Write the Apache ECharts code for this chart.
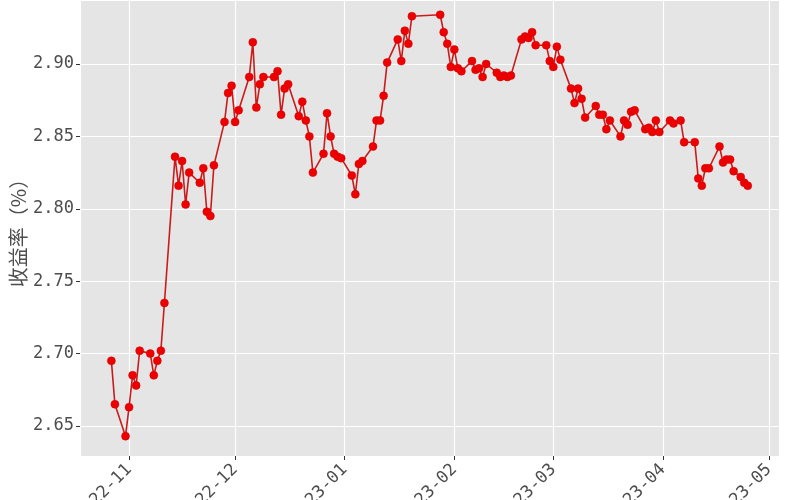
<!DOCTYPE html>
<html>
<head>
<meta charset="utf-8">
<script src="https://cdn.jsdelivr.net/npm/echarts@6/dist/echarts.min.js"></script>
<style>html,body{margin:0;padding:0;background:#fff}#c{width:800px;height:500px}</style>
</head>
<body>
<div id="c"></div>
<script>
const dates = [
'2022-10-27','2022-10-28','2022-10-31','2022-11-01','2022-11-02','2022-11-03','2022-11-04',
'2022-11-07','2022-11-08','2022-11-09','2022-11-10','2022-11-11',
'2022-11-14','2022-11-15','2022-11-16','2022-11-17','2022-11-18',
'2022-11-21','2022-11-22','2022-11-23','2022-11-24','2022-11-25',
'2022-11-28','2022-11-29','2022-11-30','2022-12-01','2022-12-02',
'2022-12-05','2022-12-06','2022-12-07','2022-12-08','2022-12-09',
'2022-12-12','2022-12-13','2022-12-14','2022-12-15','2022-12-16',
'2022-12-19','2022-12-20','2022-12-21','2022-12-22','2022-12-23',
'2022-12-26','2022-12-27','2022-12-28','2022-12-29','2022-12-30','2022-12-31',
'2023-01-03','2023-01-04','2023-01-05','2023-01-06',
'2023-01-09','2023-01-10','2023-01-11','2023-01-12','2023-01-13',
'2023-01-16','2023-01-17','2023-01-18','2023-01-19','2023-01-20',
'2023-01-28','2023-01-29','2023-01-30','2023-01-31','2023-02-01','2023-02-02','2023-02-03',
'2023-02-06','2023-02-07','2023-02-08','2023-02-09','2023-02-10',
'2023-02-13','2023-02-14','2023-02-15','2023-02-16','2023-02-17',
'2023-02-20','2023-02-21','2023-02-22','2023-02-23','2023-02-24',
'2023-02-27','2023-02-28','2023-03-01','2023-03-02','2023-03-03',
'2023-03-06','2023-03-07','2023-03-08','2023-03-09','2023-03-10',
'2023-03-13','2023-03-14','2023-03-15','2023-03-16','2023-03-17',
'2023-03-20','2023-03-21','2023-03-22','2023-03-23','2023-03-24',
'2023-03-27','2023-03-28','2023-03-29','2023-03-30','2023-03-31',
'2023-04-03','2023-04-04','2023-04-06','2023-04-07',
'2023-04-10','2023-04-11','2023-04-12','2023-04-13','2023-04-14',
'2023-04-17','2023-04-18','2023-04-19','2023-04-20','2023-04-21',
'2023-04-23','2023-04-24','2023-04-25'
];
const yields = [
2.695,2.665,2.643,2.663,2.685,2.678,2.702,
2.700,2.685,2.695,2.702,2.735,
2.836,2.816,2.833,2.803,2.825,
2.818,2.828,2.798,2.795,2.830,
2.860,2.880,2.885,2.860,2.868,
2.891,2.915,2.870,2.886,2.891,
2.891,2.895,2.865,2.883,2.886,
2.864,2.874,2.861,2.850,2.825,
2.838,2.866,2.850,2.838,2.836,2.835,
2.823,2.810,2.831,2.833,
2.843,2.861,2.861,2.878,2.901,
2.917,2.902,2.923,2.914,2.933,
2.934,2.922,2.914,2.898,2.910,2.897,2.895,
2.902,2.896,2.897,2.891,2.900,
2.894,2.891,2.892,2.891,2.892,
2.917,2.919,2.918,2.922,2.913,
2.913,2.902,2.898,2.912,2.903,
2.883,2.873,2.883,2.876,2.863,
2.871,2.865,2.865,2.855,2.861,
2.850,2.861,2.858,2.867,2.868,
2.855,2.856,2.853,2.861,2.853,
2.861,2.859,2.861,2.846,
2.846,2.821,2.816,2.828,2.828,
2.843,2.832,2.834,2.834,2.826,
2.822,2.818,2.816
];
const yAxisName = '收益率（%）';
const xMin = '2022-10-18 03:00';
const xMax = '2023-05-03 20:00';
const yMin = 2.6293;
const yMax = 2.9442;

const chart = echarts.init(document.getElementById('c'), null, {renderer: 'canvas'});
const mono = "'DejaVu Sans Mono', monospace";
chart.setOption({
  animation: false,
  backgroundColor: '#ffffff',
  grid: {left: 80, right: 21, top: 0, bottom: 44, show: true, backgroundColor: '#e5e5e5', borderWidth: 0, containLabel: false, outerBoundsMode: 'none'},
  xAxis: {
    type: 'time',
    min: xMin, max: xMax,
    minInterval: 28 * 86400000,
    maxInterval: 31 * 86400000,
    axisLine: {show: false},
    axisTick: {show: true, length: 4, lineStyle: {color: '#333333', width: 1}},
    splitLine: {show: true, lineStyle: {color: '#ffffff', width: 1.2}},
    minorTick: {show: false},
    axisLabel: {
      rotate: 45, margin: 11, color: '#4d4d4d', fontSize: 17, fontFamily: mono,
      hideOverlap: false,
      formatter: function (v) {
        const d = new Date(v);
        const m = d.getMonth() + 1;
        return d.getFullYear() + '-' + (m < 10 ? '0' + m : m);
      }
    }
  },
  yAxis: {
    type: 'value',
    min: yMin, max: yMax,
    splitNumber: 6,
    name: yAxisName,
    nameLocation: 'middle',
    nameGap: 52,
    nameMoveOverlap: false,
    nameTextStyle: {fontSize: 20, color: '#4d4d4d', fontFamily: "'Noto Sans CJK SC', sans-serif"},
    axisLine: {show: false},
    axisTick: {show: true, length: 4, lineStyle: {color: '#333333', width: 1}},
    splitLine: {show: true, lineStyle: {color: '#ffffff', width: 1.2}},
    axisLabel: {
      margin: 6, color: '#4d4d4d', fontSize: 17, fontFamily: mono,
      showMinLabel: false, showMaxLabel: false,
      formatter: function (v) { return v.toFixed(2); }
    }
  },
  series: [{
    type: 'line',
    data: dates.map((d, i) => [d, yields[i]]),
    symbol: 'circle',
    symbolSize: 8,
    showAllSymbol: true,
    lineStyle: {color: '#cc1a1a', width: 1.6},
    itemStyle: {color: '#ee0000', borderColor: '#cc0000', borderWidth: 0.5}
  }]
});
</script>
</body>
</html>
